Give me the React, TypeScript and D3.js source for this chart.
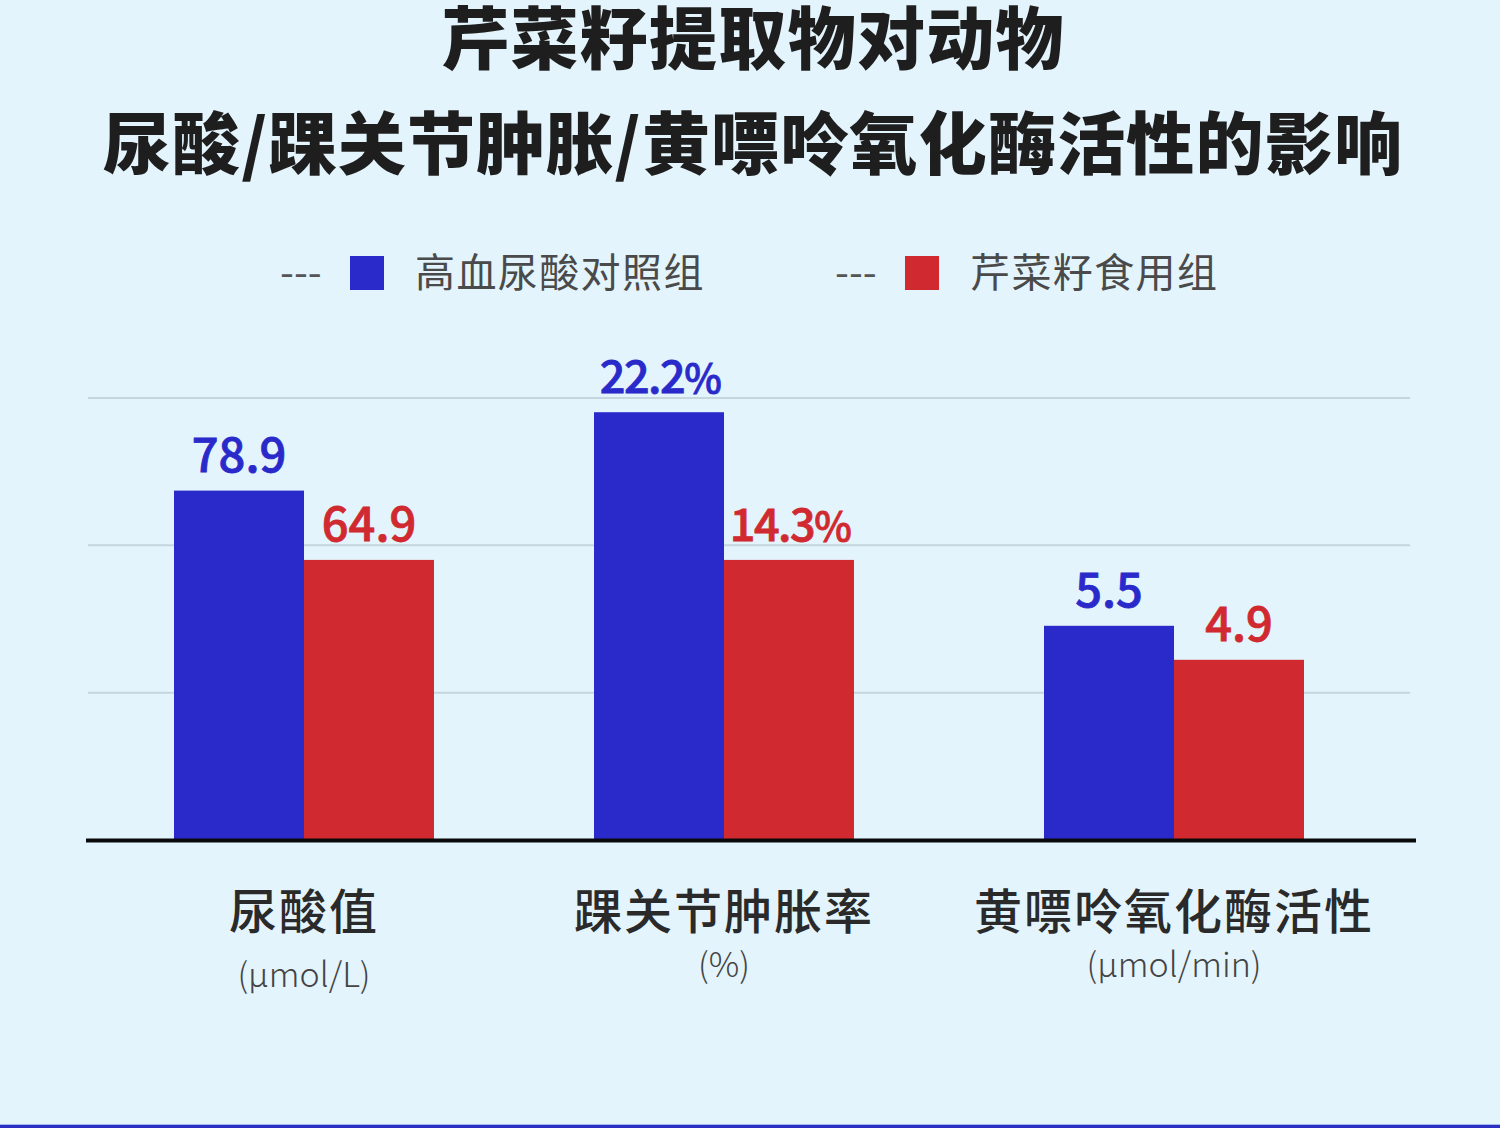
import React from "react";
import * as d3 from "d3";

// ---- data ----
const titleLines = ["芹菜籽提取物对动物", "尿酸/踝关节肿胀/黄嘌呤氧化酶活性的影响"];
const categories = ["尿酸值", "踝关节肿胀率", "黄嘌呤氧化酶活性"];
const units = ["(μmol/L)", "(%)", "(μmol/min)"];
const seriesNames = ["高血尿酸对照组", "芹菜籽食用组"];
const controlValues = [78.9, 22.2, 5.5];
const seedValues = [64.9, 14.3, 4.9];
const labelSuffix = ["", "%", ""];
// each category is drawn on its own value axis
const axisDomains: [number, number][] = [
  [8.33, 97.6],
  [-0.68, 22.96],
  [1.72, 9.52],
];
const gridTicks = [1, 2, 3];

// ---- layout / style ----
const W = 1500;
const H = 1128;
const BG = "#e3f4fc";
const BLUE = "#2a2acb";
const RED = "#d02a30";
const baseY = 840;
const topY = 398;
const groupCenters = [304, 724, 1174];
const barW = 130;
const unitDy = [10, 0, 0];
const CJK = "'Noto Sans CJK SC', 'Noto Sans', sans-serif";

export default function App() {
  const x0 = d3.scaleOrdinal<string, number>().domain(categories).range(groupCenters);
  const x1 = d3.scaleBand<string>().domain(seriesNames).range([-barW, barW]).padding(0);
  const grid = d3.scaleLinear().domain([0, 3]).range([baseY, topY]);
  const yScales = axisDomains.map((d) => d3.scaleLinear().domain(d).range([baseY, topY]));
  const series = [controlValues, seedValues];
  const colors = [BLUE, RED];

  return (
    <div style={{ position: "absolute", left: 0, top: 0 }}>
      <svg width={W} height={H} style={{ display: "block" }}>
        <rect x={0} y={0} width={W} height={H} fill={BG} />
        <rect x={0} y={H - 3} width={W} height={3} fill="#2b2fc2" />
        <rect x={0} y={H - 4} width={W} height={1} fill="#9fb8ee" />

        {/* title */}
        {titleLines.map((t, i) => (
          <text
            key={t}
            x={W / 2 + 3}
            y={64 + i * 105}
            textAnchor="middle"
            fontFamily={CJK}
            fontWeight={900}
            fontSize={68}
            letterSpacing={i === 0 ? 1.3 : 1.2}
            fill="#1e1e1e"
          >
            {t}
          </text>
        ))}

        {/* legend */}
        {seriesNames.map((s, i) => {
          const lx = [280, 835][i];
          return (
            <g key={s}>
              <text x={lx} y={287} fontFamily={CJK} fontSize={40} fill="#555">
                ---
              </text>
              <rect x={lx + 70} y={256} width={34} height={34} fill={colors[i]} />
              <text
                x={lx + 135}
                y={287}
                fontFamily={CJK}
                fontSize={40}
                letterSpacing={1.4}
                fill="#4a4a4a"
              >
                {s}
              </text>
            </g>
          );
        })}

        {/* gridlines */}
        {gridTicks.map((t) => (
          <line
            key={t}
            x1={88}
            x2={1410}
            y1={grid(t)}
            y2={grid(t)}
            stroke="#c6d6df"
            strokeWidth={2}
          />
        ))}

        {/* bars */}
        {categories.map((c, ci) => (
          <g key={c} transform={`translate(${x0(c)},0)`}>
            {series.map((vals, si) => {
              const y = yScales[ci](vals[ci]);
              const bx = x1(seriesNames[si]) as number;
              const pct = labelSuffix[ci] !== "";
              return (
                <g key={si}>
                  <rect x={bx} y={y} width={x1.bandwidth()} height={baseY - y} fill={colors[si]} />
                  <text
                    x={bx + x1.bandwidth() / 2 + (pct ? 1 : 0)}
                    y={y - 19}
                    textAnchor="middle"
                    fontFamily={CJK}
                    fontWeight={500}
                    fontSize={pct ? 45 : 47}
                    letterSpacing={pct ? -1.5 : 0}
                    fill={colors[si]}
                    stroke={colors[si]}
                    strokeWidth={0.8}
                  >
                    {d3.format(".1f")(vals[ci])}
                    {pct ? <tspan fontSize={40}>{labelSuffix[ci]}</tspan> : null}
                  </text>
                </g>
              );
            })}
            <text
              x={0}
              y={929}
              textAnchor="middle"
              fontFamily={CJK}
              fontWeight={500}
              fontSize={48}
              letterSpacing={2}
              fill="#2a2a2a"
            >
              {c}
            </text>
            <text
              x={0}
              y={977 + unitDy[ci]}
              textAnchor="middle"
              fontFamily={CJK}
              fontWeight={300}
              fontSize={34}
              fill="#444"
            >
              {units[ci]}
            </text>
          </g>
        ))}

        {/* baseline */}
        <line x1={86} x2={1416} y1={baseY + 0.5} y2={baseY + 0.5} stroke="#0a0a0a" strokeWidth={4} />
      </svg>
    </div>
  );
}
